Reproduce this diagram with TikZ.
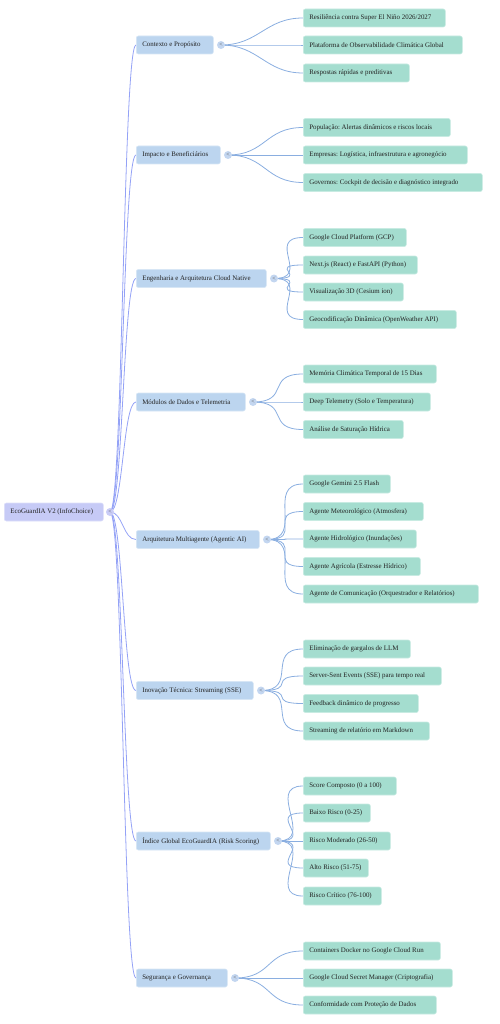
\documentclass[tikz,border=0pt]{standalone}
\usepackage{fontspec}
\setmainfont{Liberation Serif}
\usetikzlibrary{backgrounds}
\frenchspacing
\definecolor{rootc}{HTML}{C6CAF6}
\definecolor{lonec}{HTML}{BCD5EF}
\definecolor{leafc}{HTML}{A4DDCF}
\definecolor{rlinkc}{HTML}{94A2F6}
\definecolor{llinkc}{HTML}{8AAEE0}
\definecolor{knobc}{HTML}{C3D6F0}
\definecolor{rknobc}{HTML}{C9CCF6}
\definecolor{txtc}{HTML}{222222}
\newcommand\boxtxt[2]{\makebox[#1pt][l]{#2}}
\tikzset{
  box/.style={anchor=west, rounded corners=2pt, minimum height=18pt, inner xsep=6pt, inner ysep=0pt,
    font=\fontsize{6.9}{8}\selectfont, text=txtc, line width=0.6pt},
  rootbox/.style={box, fill=rootc, draw=rootc!60!white},
  lonebox/.style={box, fill=lonec, draw=lonec!60!white},
  leafbox/.style={box, fill=leafc, draw=leafc!60!white},
  knob/.style={circle, minimum size=8pt, inner sep=0pt, fill=knobc, font=\fontsize{6}{6}\selectfont, text=black!65},
  rknob/.style={knob, fill=rknobc},
  rlink/.style={draw=rlinkc, line width=0.8pt},
  llink/.style={draw=llinkc, line width=0.8pt},
}
\begin{document}
\begin{tikzpicture}[x=1pt, y=-1pt]
\useasboundingbox (0,0) rectangle (499,1024);
% root
\node[rootbox] (root) at (4,512) {\boxtxt{87}{EcoGuardIA V2 (InfoChoice)}};
\node[rknob] (rk) at (110,512) {<};
% level 1
\node[lonebox] (ctx) at (136,45) {\boxtxt{65}{Contexto e Propósito}};
\node[knob] (kctx) at (221,45) {<};
\node[lonebox] (imp) at (136,155) {\boxtxt{72}{Impacto e Beneficiários}};
\node[knob] (kimp) at (228,155) {<};
\node[lonebox] (eng) at (136,278.5) {\boxtxt{118}{Engenharia e Arquitetura Cloud Native}};
\node[knob] (keng) at (274,278.5) {<};
\node[lonebox] (mod) at (136,402) {\boxtxt{97}{Módulos de Dados e Telemetria}};
\node[knob] (kmod) at (253,402) {<};
\node[lonebox] (arq) at (136,539.5) {\boxtxt{111}{Arquitetura Multiagente (Agentic AI)}};
\node[knob] (karq) at (267,539.5) {<};
\node[lonebox] (ino) at (136,690.5) {\boxtxt{105}{Inovação Técnica: Streaming (SSE)}};
\node[knob] (kino) at (261,690.5) {<};
\node[lonebox] (ind) at (136,841) {\boxtxt{122}{Índice Global EcoGuardIA (Risk Scoring)}};
\node[knob] (kind) at (278,841) {<};
\node[lonebox] (seg) at (136,978) {\boxtxt{79}{Segurança e Governança}};
\node[knob] (kseg) at (235,978) {<};
% leaves
\node[leafbox] (ctx1) at (303,18) {\boxtxt{130}{Resiliência contra Super El Niño 2026/2027}};
\node[leafbox] (ctx2) at (303,45) {\boxtxt{147}{Plataforma de Observabilidade Climática Global}};
\node[leafbox] (ctx3) at (303,73) {\boxtxt{94}{Respostas rápidas e preditivas}};
\node[leafbox] (imp1) at (303,127.5) {\boxtxt{135}{População: Alertas dinâmicos e riscos locais}};
\node[leafbox] (imp2) at (303,155) {\boxtxt{152}{Empresas: Logística, infraestrutura e agronegócio}};
\node[leafbox] (imp3) at (303,182.5) {\boxtxt{167}{Governos: Cockpit de decisão e diagnóstico integrado}};
\node[leafbox] (eng1) at (303,237.5) {\boxtxt{91}{Google Cloud Platform (GCP)}};
\node[leafbox] (eng2) at (303,265) {\boxtxt{102}{Next.js (React) e FastAPI (Python)}};
\node[leafbox] (eng3) at (303,292) {\boxtxt{88}{Visualização 3D (Cesium ion)}};
\node[leafbox] (eng4) at (303,319.5) {\boxtxt{141}{Geocodificação Dinâmica (OpenWeather API)}};
\node[leafbox] (mod1) at (303,374) {\boxtxt{121}{Memória Climática Temporal de 15 Dias}};
\node[leafbox] (mod2) at (303,402) {\boxtxt{115}{Deep Telemetry (Solo e Temperatura)}};
\node[leafbox] (mod3) at (303,429.5) {\boxtxt{88}{Análise de Saturação Hídrica}};
\node[leafbox] (arq1) at (303,484) {\boxtxt{75}{Google Gemini 2.5 Flash}};
\node[leafbox] (arq2) at (303,511.5) {\boxtxt{108}{Agente Meteorológico (Atmosfera)}};
\node[leafbox] (arq3) at (303,539) {\boxtxt{101}{Agente Hidrológico (Inundações)}};
\node[leafbox] (arq4) at (303,566.5) {\boxtxt{105}{Agente Agrícola (Estresse Hídrico)}};
\node[leafbox] (arq5) at (303,594) {\boxtxt{163}{Agente de Comunicação (Orquestrador e Relatórios)}};
\node[leafbox] (ino1) at (303,649) {\boxtxt{95}{Eliminação de gargalos de LLM}};
\node[leafbox] (ino2) at (303,676) {\boxtxt{126}{Server-Sent Events (SSE) para tempo real}};
\node[leafbox] (ino3) at (303,703.5) {\boxtxt{103}{Feedback dinâmico de progresso}};
\node[leafbox] (ino4) at (303,731) {\boxtxt{114}{Streaming de relatório em Markdown}};
\node[leafbox] (ind1) at (303,786) {\boxtxt{81}{Score Composto (0 a 100)}};
\node[leafbox] (ind2) at (303,813) {\boxtxt{55}{Baixo Risco (0-25)}};
\node[leafbox] (ind3) at (303,841) {\boxtxt{75}{Risco Moderado (26-50)}};
\node[leafbox] (ind4) at (303,868) {\boxtxt{53}{Alto Risco (51-75)}};
\node[leafbox] (ind5) at (303,896) {\boxtxt{66}{Risco Crítico (76-100)}};
\node[leafbox] (seg1) at (303,951) {\boxtxt{125}{Containers Docker no Google Cloud Run}};
\node[leafbox] (seg2) at (303,978) {\boxtxt{137}{Google Cloud Secret Manager (Criptografia)}};
\node[leafbox] (seg3) at (303,1005) {\boxtxt{121}{Conformidade com Proteção de Dados}};
% links
\begin{scope}[on background layer]
\foreach \c in {ctx,imp,eng,mod,arq,ino,ind,seg}
  \draw[rlink] (rk.center) .. controls +(13,0) and +(-13,0) .. (\c.west);
\foreach \c/\k/\n in {ctx/kctx/3,imp/kimp/3,eng/keng/4,mod/kmod/3,arq/karq/5,ino/kino/4,ind/kind/5,seg/kseg/3}
  \foreach \i in {1,...,\n}
    \draw[llink] (\k.center) .. controls +(38,0) and +(-38,0) .. (\c\i.west);
\end{scope}
\end{tikzpicture}
\end{document}
